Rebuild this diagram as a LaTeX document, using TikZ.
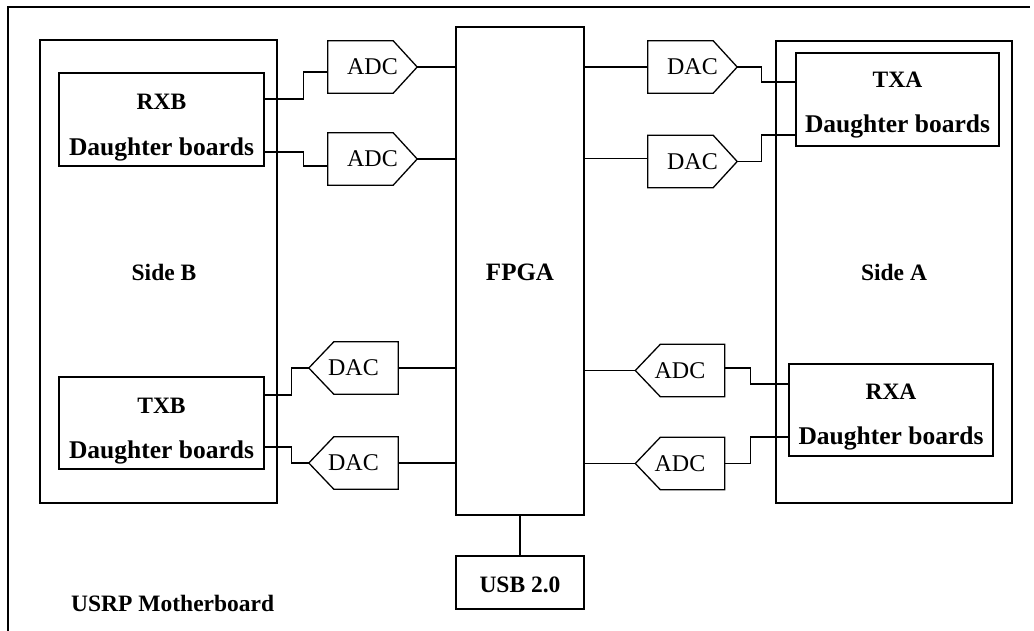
\documentclass[tikz,border=0pt]{standalone}
\usepackage{fontspec}
\setmainfont{Liberation Serif}
\usetikzlibrary{calc}
\newcommand\convR[3]{%
  \node[convbox] (#1) at (#2) {#3};
  \draw[wire] (#1.north west) -- ([xshift=-24pt]#1.north east) -- (#1.east) -- ([xshift=-24pt]#1.south east) -- (#1.south west) -- cycle;
}
\newcommand\convL[3]{%
  \node[convbox] (#1) at (#2) {#3};
  \draw[wire] (#1.north east) -- ([xshift=25pt]#1.north west) -- (#1.west) -- ([xshift=25pt]#1.south west) -- (#1.south east) -- cycle;
}
\begin{document}
\begin{tikzpicture}[x=1pt,y=-1pt,
  wire/.style={line width=1.3pt, line join=miter},
  blk/.style={draw, line width=1.3pt, inner sep=0pt},
  convbox/.style={minimum width=89pt, minimum height=52pt, inner sep=0pt, font=\fontsize{24}{28}\selectfont},
  lbl/.style={font=\fontsize{23.5}{28}\selectfont\bfseries, inner sep=0pt, anchor=base},
  dlbl/.style={lbl, font=\fontsize{25.5}{30}\selectfont\bfseries}
]
\useasboundingbox (0,0) rectangle (1034,631);
% outer frame (cropped)
\draw[wire] (8,631) -- (8,7) -- (1030,7);

% blocks
\node[blk, minimum width=237pt, minimum height=463pt] (sideB) at (158.5,271.5) {};
\node[blk, minimum width=205pt, minimum height=93pt] (rxb) at (161.5,119.5) {};
\node[blk, minimum width=205pt, minimum height=92pt] (txb) at (161.5,423) {};
\node[blk, minimum width=128pt, minimum height=488pt] (fpga) at (520,271) {};
\node[blk, minimum width=128pt, minimum height=53pt] (usb) at (520,582.5) {};
\node[blk, minimum width=236pt, minimum height=462pt] (sideA) at (894,272) {};
\node[blk, minimum width=203pt, minimum height=93pt] (txa) at (897.5,99.5) {};
\node[blk, minimum width=204pt, minimum height=92pt] (rxa) at (891,410) {};

% labels
\node[lbl] (trxb) at (161.5,110) {RXB};
\node[dlbl] (drxb) at (161.5,156) {Daughter boards};
\node[lbl] (ttxb) at (161.5,413) {TXB};
\node[dlbl] (dtxb) at (161.5,458) {Daughter boards};
\node[lbl] (ttxa) at (897.5,88) {TXA};
\node[dlbl] (dtxa) at (897.5,133) {Daughter boards};
\node[lbl] (trxa) at (891,399) {RXA};
\node[dlbl] (drxa) at (891,444) {Daughter boards};
\node[lbl] (tsideB) at (164,280) {Side B};
\node[lbl] (tsideA) at (894,280) {Side A};
\node[lbl, font=\fontsize{25}{30}\selectfont\bfseries] (tfpga) at (520,281) {FPGA};
\node[lbl] (tusb) at (520,592) {USB 2.0};
\node[lbl, anchor=base west] (tmb) at (71,611) {USRP Motherboard};

% converters
\convR{adc1}{372.5,67}{ADC}
\convR{adc2}{372.5,159}{ADC}
\convR{dac1}{692.5,67}{DAC}
\convR{dac2}{692.5,161.5}{DAC}
\convL{dac3}{353.5,368}{DAC}
\convL{dac4}{353.5,463}{DAC}
\convL{adc3}{680,370.5}{ADC}
\convL{adc4}{680,463.5}{ADC}

% connectors
\draw[wire] ([yshift=20.5pt]rxb.east) -- ++(39,0) |- ([yshift=-5pt]adc1.west);
\draw[wire] ([yshift=-32.5pt]rxb.east) -- ++(39,0) |- ([yshift=-7pt]adc2.west);
\draw[wire] (adc1.east) -- (adc1.east -| fpga.west);
\draw[wire] (adc2.east) -- (adc2.east -| fpga.west);

\draw[wire] (dac1.west -| fpga.east) -- (dac1.west);
\draw[wire] ([yshift=3pt]dac2.west -| fpga.east) -- ([yshift=3pt]dac2.west);
\draw[wire] (dac1.east) -- ++(24,0) |- ([yshift=17.5pt]txa.west);
\draw[wire] (dac2.east) -- ++(24,0) |- ([yshift=-35.5pt]txa.west);

\draw[wire] (dac3.east -| fpga.west) -- (dac3.east);
\draw[wire] (dac4.east -| fpga.west) -- (dac4.east);
\draw[wire] (dac3.west) -- ++(-17,0) |- ([yshift=28pt]txb.east);
\draw[wire] (dac4.west) -- ++(-17,0) |- ([yshift=-24pt]txb.east);

\draw[wire] (adc3.west -| fpga.east) -- (adc3.west);
\draw[wire] (adc4.west -| fpga.east) -- (adc4.west);
\draw[wire] ([yshift=2.5pt]adc3.east) -- ++(26,0) |- ([yshift=26pt]rxa.west);
\draw[wire] (adc4.east) -- ++(26,0) |- ([yshift=-27pt]rxa.west);

\draw[wire] (fpga.south) -- (usb.north);
\end{tikzpicture}
\end{document}
